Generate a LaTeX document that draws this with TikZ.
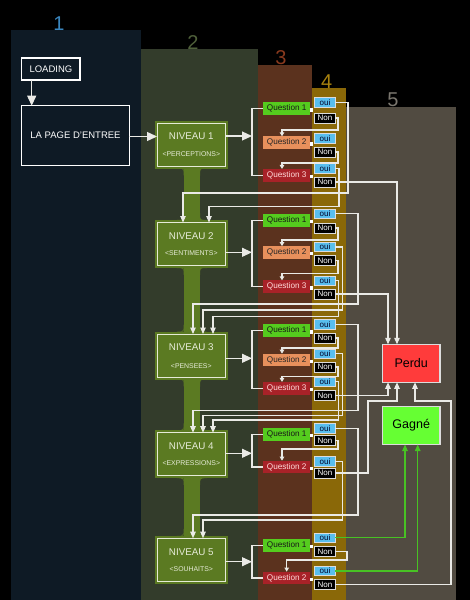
\documentclass[tikz,border=0pt]{standalone}
\usepackage{fontspec}
\setmainfont{Liberation Sans}
\usetikzlibrary{arrows.meta,calc}
\definecolor{colA}{HTML}{0E1A25}
\definecolor{colB}{HTML}{333C2B}
\definecolor{colC}{HTML}{5B321E}
\definecolor{colD}{HTML}{8A6808}
\definecolor{colE}{HTML}{514B41}
\definecolor{labA}{HTML}{3A86BE}
\definecolor{labB}{HTML}{4F603A}
\definecolor{labC}{HTML}{8A3A1E}
\definecolor{labD}{HTML}{A8820E}
\definecolor{labE}{HTML}{7A766E}
\definecolor{niv}{HTML}{5B7A22}
\definecolor{nivline}{HTML}{E6EBD8}
\definecolor{qgreen}{HTML}{55CC1E}
\definecolor{qorange}{HTML}{E8905C}
\definecolor{qred}{HTML}{A82228}
\definecolor{ouifill}{HTML}{58BEEE}
\definecolor{boxline}{HTML}{DCDCDC}
\definecolor{perdufill}{HTML}{FF3B3B}
\definecolor{gagnefill}{HTML}{66FF33}
\definecolor{wire}{HTML}{EAEAE6}
\definecolor{gwire}{HTML}{48C224}
\begin{document}
\begin{tikzpicture}[x=1pt,y=-1pt,
  every node/.style={inner sep=0pt, outer sep=0pt},
  collab/.style={font=\fontsize{20}{20}\selectfont},
  framebox/.style={draw=white, line width=1.2pt, font=\fontsize{9.5}{11}\selectfont, text=white},
  nivbox/.style={fill=niv, draw=nivline, line width=1pt, minimum width=68.5pt, minimum height=43pt, preaction={draw=niv, line width=5pt}},
  nivtitle/.style={font=\fontsize{9.8}{11}\selectfont, text=nivline},
  nivsub/.style={font=\fontsize{6.9}{8}\selectfont, text=nivline},
  qbox/.style={minimum width=47pt, minimum height=12.7pt, font=\fontsize{8.2}{9}\selectfont},
  qa/.style={qbox, fill=qgreen, text=black!90},
  qb/.style={qbox, fill=qorange, text=black!85},
  qc/.style={qbox, fill=qred, text=white!85!red},
  dot/.style={fill=white, minimum size=3.3pt},
  ouibox/.style={fill=ouifill, draw=boxline, line width=0.8pt, minimum width=20.5pt, minimum height=9.5pt, font=\fontsize{8}{9}\selectfont, text=black!85!blue},
  nonbox/.style={fill=black, draw=boxline, line width=0.8pt, minimum width=20.5pt, minimum height=10pt, font=\fontsize{8}{9}\selectfont, text=white},
  endbox/.style={draw=boxline, line width=1.3pt, minimum width=57.7pt, minimum height=38pt, font=\fontsize{12.5}{14}\selectfont, text=black},
  wirel/.style={draw=wire, line width=1.15pt},
  big/.style={wirel, -{Triangle[length=10pt,width=9pt]}},
  conn/.style={wirel, -{Triangle[length=6.5pt,width=5.5pt]}},
  hook/.style={wirel, -{Triangle[length=4pt,width=4.5pt]}},
  gconn/.style={draw=gwire, line width=1.15pt, -{Triangle[length=6.5pt,width=5.5pt]}},
]
\fill[black] (0,0) rectangle (470,600);
\useasboundingbox (0,0) rectangle (470,600);
% columns
\fill[colA] (11,30) rectangle (140.5,600);
\fill[colB] (140.5,49) rectangle (257.5,600);
\fill[colC] (257.5,65) rectangle (312,600);
\fill[colD] (312,88) rectangle (346,600);
\fill[colE] (346,107) rectangle (455.5,600);
\node[collab,text=labA] (c1) at (59,23.3) {1};
\node[collab,text=labB] (c2) at (193,42.5) {2};
\node[collab,text=labC] (c3) at (281,58) {3};
\node[collab,text=labD] (c4) at (326.7,81.5) {4};
\node[collab,text=labE] (c5) at (393,100) {5};
% stem
\fill[niv] (183.5,160) rectangle (200,545);
\foreach \yb/\yt in {168.5/220, 268/331.5, 379.5/430.2, 478.2/535.7} {
  \fill[niv] (183.5,\yb) -- (183.5,\yb+7) .. controls (183.5,\yb) .. (176.5,\yb) -- cycle;
  \fill[niv] (200,\yb) -- (200,\yb+7) .. controls (200,\yb) .. (207,\yb) -- cycle;
  \fill[niv] (183.5,\yt) -- (183.5,\yt-7) .. controls (183.5,\yt) .. (176.5,\yt) -- cycle;
  \fill[niv] (200,\yt) -- (200,\yt-7) .. controls (200,\yt) .. (207,\yt) -- cycle;
}
% entry
\node[framebox, minimum width=58.3pt, minimum height=22pt] (load) at (50.9,69) {LOADING};
\node[framebox, minimum width=107.6pt, minimum height=60pt] (page) at (75.5,135.7) {LA PAGE D'ENTREE};
% niveaux
\node[nivbox] (n1) at (191.3,144.5) {};
\node[nivbox] (n2) at (191.3,244) {};
\node[nivbox] (n3) at (191.3,355.5) {};
\node[nivbox] (n4) at (191.3,454.2) {};
\node[nivbox] (n5) at (191.3,559.7) {};
\node[nivtitle] (n1t) at (191.3,136.5) {NIVEAU 1};
\node[nivsub] (n1s) at (191.3,154.5) {<PERCEPTIONS>};
\node[nivtitle] (n2t) at (191.3,236) {NIVEAU 2};
\node[nivsub] (n2s) at (191.3,253) {<SENTIMENTS>};
\node[nivtitle] (n3t) at (191.3,347.5) {NIVEAU 3};
\node[nivsub] (n3s) at (191.3,366) {<PENSEES>};
\node[nivtitle] (n4t) at (191.3,446.2) {NIVEAU 4};
\node[nivsub] (n4s) at (191.3,463.2) {<EXPRESSIONS>};
\node[nivtitle] (n5t) at (191.3,551.7) {NIVEAU 5};
\node[nivsub] (n5s) at (191.3,569.5) {<SOUHAITS>};
% end boxes
\node[endbox, fill=perdufill] (perdu) at (411.2,363.3) {Perdu};
\node[endbox, fill=gagnefill] (gagne) at (411.2,425.5) {Gagné};
% questions L1
\node[qa] (q11) at (286.7,108.7) {Question 1};
\node[qb] (q12) at (286.7,142.7) {Question 2};
\node[qc] (q13) at (286.7,175.3) {Question 3};
\node[ouibox] (o11) at (325,102.5) {oui};
\node[nonbox] (x11) at (325,118) {Non};
\node[ouibox] (o12) at (325,138.3) {oui};
\node[nonbox] (x12) at (325,152) {Non};
\node[ouibox] (o13) at (325,168.3) {oui};
\node[nonbox] (x13) at (325,182) {Non};
% L2
\node[qa] (q21) at (286.7,220.3) {Question 1};
\node[qb] (q22) at (286.7,252.5) {Question 2};
\node[qc] (q23) at (286.7,286.7) {Question 3};
\node[ouibox] (o21) at (325,213.8) {oui};
\node[nonbox] (x21) at (325,228) {Non};
\node[ouibox] (o22) at (325,247) {oui};
\node[nonbox] (x22) at (325,260.7) {Non};
\node[ouibox] (o23) at (325,280.8) {oui};
\node[nonbox] (x23) at (325,294) {Non};
% L3
\node[qa] (q31) at (286.7,330.7) {Question 1};
\node[qb] (q32) at (286.7,360) {Question 2};
\node[qc] (q33) at (286.7,388.3) {Question 3};
\node[ouibox] (o31) at (325,324.5) {oui};
\node[nonbox] (x31) at (325,338) {Non};
\node[ouibox] (o32) at (325,353.8) {oui};
\node[nonbox] (x32) at (325,367) {Non};
\node[ouibox] (o33) at (325,381.7) {oui};
\node[nonbox] (x33) at (325,395.8) {Non};
% L4
\node[qa] (q41) at (286.7,434.5) {Question 1};
\node[qc] (q42) at (286.7,467) {Question 2};
\node[ouibox] (o41) at (325,428.3) {oui};
\node[nonbox] (x41) at (325,440.5) {Non};
\node[ouibox] (o42) at (325,461.3) {oui};
\node[nonbox] (x42) at (325,473) {Non};
% L5
\node[qa] (q51) at (286.7,545.5) {Question 1};
\node[qc] (q52) at (286.7,578) {Question 2};
\node[ouibox] (o51) at (325,537.7) {oui};
\node[nonbox] (x51) at (325,551.3) {Non};
\node[ouibox] (o52) at (325,571) {oui};
\node[nonbox] (x52) at (325,584.7) {Non};
% dots
\foreach \n/\y in {d11/110, d12/144, d13/176.6, d21/221.6, d22/253.8, d23/288, d31/332, d32/361.3, d33/389.6, d41/435.8, d42/468.3, d51/546.8, d52/579.3}
  \node[dot] (\n) at (311.8,\y) {};
% bracket points
\coordinate (b1) at (252,136);
\coordinate (b2) at (252,252.3);
\coordinate (b3) at (252,358.3);
\coordinate (b4) at (252,453.3);
\coordinate (b5) at (252,561.7);
% entry arrows
\draw[big] ($(load.south)+(-19.2,0)$) -- ($(page.north)+(-43.8,0)$);
\draw[big] (page.east |- n1t) -- (n1.west |- n1t);
% brackets
\draw[wirel] (q11.west) -- (q11.west -| b1) -- (q13.west -| b1) -- (q13.west);
\draw[wirel] (q21.west) -- (q21.west -| b2) -- (q23.west -| b2) -- (q23.west);
\draw[wirel] (q31.west) -- (q31.west -| b3) -- (q33.west -| b3) -- (q33.west);
\draw[wirel] (q41.west) -- (q41.west -| b4) -- (q42.west -| b4) -- (q42.west);
\draw[wirel] (q51.west) -- (q51.west -| b5) -- (q52.west -| b5) -- (q52.west);
\draw[big] (n1.east |- b1) -- (b1);
\draw[big] (n2.east |- b2) -- (b2);
\draw[big] (n3.east |- b3) -- (b3);
\draw[big] (n4.east |- b4) -- (b4);
\draw[big] (n5.east |- b5) -- (b5);
% L1 connectors
\draw[conn] (o11.east) -| (348,193) -| ([xshift=-8.3pt]n2.north);
\draw[hook] (x11.east) -| (338,130) -| ([xshift=-4.7pt]q12.north);
\draw[hook] (x12.east) -| (338,163) -| ([xshift=-4.7pt]q13.north);
\draw[conn] (o13.east) -| (339,206.5) -| ([xshift=17.7pt]n2.north);
\draw[conn] (x13.east) -| ([xshift=-14.2pt]perdu.north);
% L2 connectors
\draw[conn] (o21.east) -| (358,304) -| ([xshift=1.7pt]n3.north);
\draw[hook] (x21.east) -| (338,240) -| ([xshift=-4.7pt]q22.north);
\draw[conn] (o22.east) -| (342.5,310) -| ([xshift=11.7pt]n3.north);
\draw[hook] (x22.east) -| (338,273.5) -| ([xshift=-4.7pt]q23.north);
\draw[conn] (o23.east) -| (338.5,316.5) -| ([xshift=21.7pt]n3.north);
\draw[conn] (x23.east) -| ([xshift=-23.2pt]perdu.north);
% L3 connectors
\draw[conn] (o31.east) -| (358,410.5) -| ([xshift=1.7pt]n4.north);
\draw[hook] (x31.east) -| (338,348) -| ([xshift=-4.7pt]q32.north);
\draw[conn] (o32.east) -| (342.5,415.5) -| ([xshift=11.7pt]n4.north);
\draw[hook] (x32.east) -| (338,376.5) -| ([xshift=-4.7pt]q33.north);
\draw[conn] (o33.east) -| (338.5,420) -| ([xshift=21.7pt]n4.north);
\draw[conn] (x33.east) -| ([xshift=-23.2pt]perdu.south);
% L4 connectors
\draw[conn] (o41.east) -| (358,515) -| ([xshift=1.7pt]n5.north);
\draw[hook] (x41.east) -| (338,449) -| ([xshift=-4.7pt]q42.north);
\draw[conn] (o42.east) -| (342.5,520) -| ([xshift=11.7pt]n5.north);
\draw[conn] (x42.east) -| (368,401) -| ([xshift=-14.2pt]perdu.south);
% L5 connectors
\draw[gconn] (o51.east) -| ([xshift=-6.2pt]gagne.south);
\draw[hook] (x51.east) -| (347,560) -| (q52.north);
\draw[gconn] (o52.east) -| ([xshift=6.5pt]gagne.south);
\draw[conn] (x52.east) -| (451,401) -| ([xshift=3.8pt]perdu.south);
\end{tikzpicture}
\end{document}
